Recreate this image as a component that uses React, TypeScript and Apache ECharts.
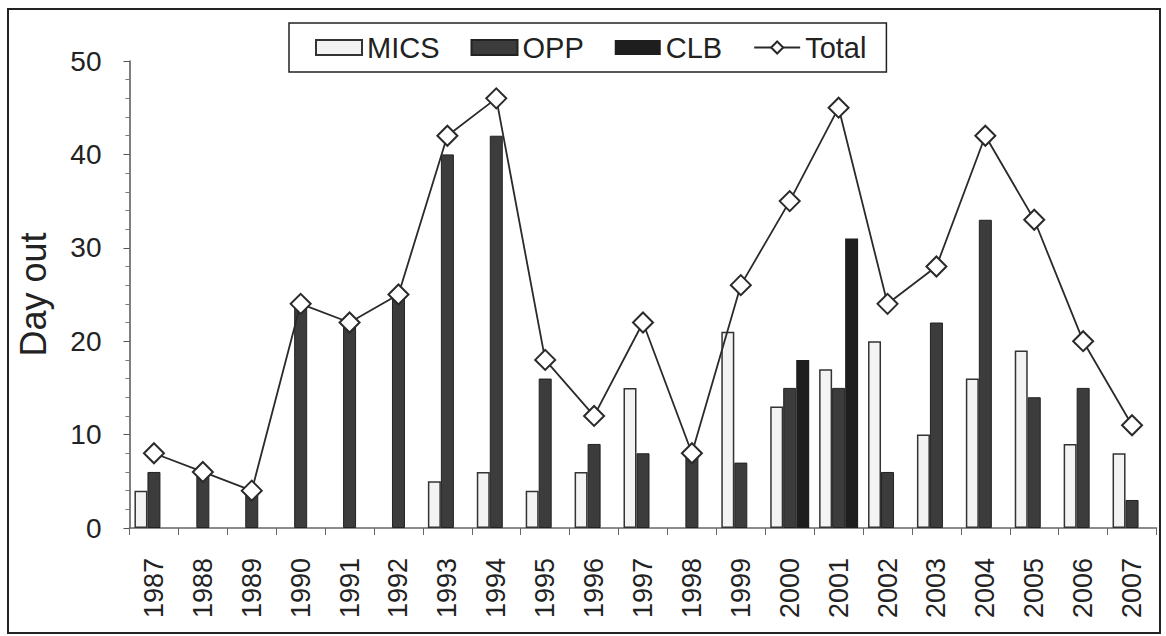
import React, { useEffect, useRef } from "react";
import * as echarts from "echarts";

const years = ["1987","1988","1989","1990","1991","1992","1993","1994","1995","1996","1997","1998","1999","2000","2001","2002","2003","2004","2005","2006","2007"];
const mics = [4, null, null, null, null, null, 5, 6, 4, 6, 15, null, 21, 13, 17, 20, 10, 16, 19, 9, 8];
const opp = [6, 6, 4, 24, 22, 25, 40, 42, 16, 9, 8, 8, 7, 15, 15, 6, 22, 33, 14, 15, 3];
const clb = [null, null, null, null, null, null, null, null, null, null, null, null, null, 18, 31, null, null, null, null, null, null];
const total = [8, 6, 4, 24, 22, 25, 42, 46, 18, 12, 22, 8, 26, 35, 45, 24, 28, 42, 33, 20, 11];

const FONT = "'Liberation Sans', Arial, sans-serif";

export default function App() {
  const ref = useRef<HTMLDivElement>(null);
  useEffect(() => {
    document.body.style.margin = "0";
    if (!ref.current) return;
    const chart = echarts.init(ref.current, undefined, { renderer: "svg" });
    chart.setOption({
      animation: false,
      backgroundColor: "#ffffff",
      textStyle: { fontFamily: FONT },
      graphic: [
        {
          type: "rect",
          shape: { x: 8, y: 9, width: 1152, height: 624 },
          style: { fill: "none", stroke: "#222", lineWidth: 2 },
          silent: true,
        },
      ],
      legend: {
        left: 289,
        top: 23,
        padding: [10, 20, 10, 26],
        itemGap: 31,
        itemWidth: 46,
        itemHeight: 15,
        borderColor: "#222",
        borderWidth: 1.5,
        backgroundColor: "#fff",
        textStyle: { fontSize: 29, color: "#222", fontFamily: FONT },
        data: [
          { name: "MICS", icon: "rect" },
          { name: "OPP", icon: "rect" },
          { name: "CLB", icon: "rect" },
          { name: "Total" },
        ],
      },
      grid: { left: 129.5, right: 9.5, top: 61, bottom: 108, containLabel: false },
      xAxis: {
        type: "category",
        data: years,
        boundaryGap: true,
        axisLine: { show: true, lineStyle: { color: "#666", width: 1.5 } },
        axisTick: { show: true, alignWithLabel: false, length: 7, lineStyle: { color: "#666" } },
        axisLabel: { rotate: 90, margin: 30, fontSize: 27, color: "#222", fontFamily: FONT },
        splitLine: { show: false },
      },
      yAxis: {
        type: "value",
        min: 0,
        max: 50,
        interval: 10,
        name: "Day out",
        nameLocation: "middle",
        nameGap: 78,
        nameTextStyle: { fontSize: 36, color: "#222", fontFamily: FONT },
        axisLine: { show: true, lineStyle: { color: "#555", width: 1.5 } },
        axisTick: { show: true, length: 6, lineStyle: { color: "#555" } },
        minorTick: { show: true, splitNumber: 5, length: 4, lineStyle: { color: "#777" } },
        axisLabel: { margin: 28, fontSize: 28, color: "#222", fontFamily: FONT },
        splitLine: { show: false },
      },
      series: [
        {
          name: "MICS",
          type: "bar",
          data: mics,
          barWidth: 13,
          barGap: "0%",
          itemStyle: { color: "#f3f3f3", borderColor: "#333", borderWidth: 1.5 },
        },
        {
          name: "OPP",
          type: "bar",
          data: opp,
          barWidth: 13,
          barGap: "0%",
          itemStyle: { color: "#3c3c3c", borderColor: "#222", borderWidth: 1 },
        },
        {
          name: "CLB",
          type: "bar",
          data: clb,
          barWidth: 13,
          barGap: "0%",
          itemStyle: { color: "#1e1e1e" },
        },
        {
          name: "Total",
          type: "line",
          data: total,
          symbol: "diamond",
          symbolSize: 20,
          lineStyle: { color: "#2a2a2a", width: 1.8 },
          itemStyle: { color: "#ffffff", borderColor: "#2a2a2a", borderWidth: 2 },
          z: 5,
        },
      ],
    });
    return () => chart.dispose();
  }, []);
  return <div ref={ref} style={{ width: 1166, height: 636 }} />;
}
